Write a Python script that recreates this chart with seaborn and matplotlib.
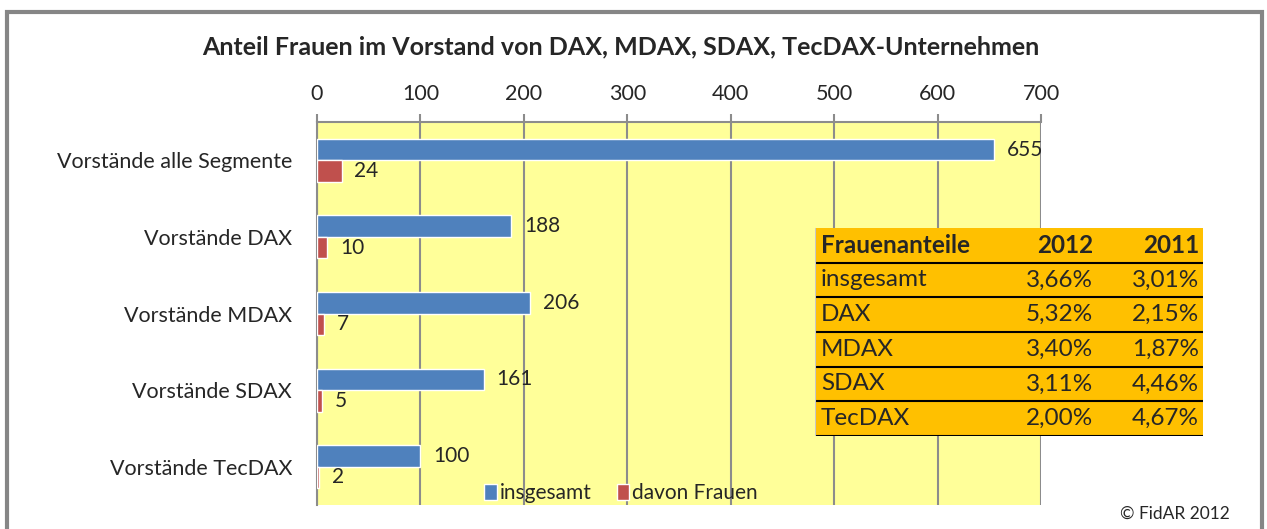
import pandas as pd
import numpy as np
import matplotlib.pyplot as plt
import seaborn as sns
from matplotlib.patches import Rectangle

# Daten
kategorien = ['Vorstände alle Segmente', 'Vorstände DAX', 'Vorstände MDAX',
              'Vorstände SDAX', 'Vorstände TecDAX']
insgesamt = [655, 188, 206, 161, 100]
davon_frauen = [24, 10, 7, 5, 2]
serien = ['insgesamt', 'davon Frauen']

tabelle_kopf = ['Frauenanteile', '2012', '2011']
tabelle_zeilen = ['insgesamt', 'DAX', 'MDAX', 'SDAX', 'TecDAX']
anteil_2012 = ['3,66%', '5,32%', '3,40%', '3,11%', '2,00%']
anteil_2011 = ['3,01%', '2,15%', '1,87%', '4,46%', '4,67%']

sns.set_style('white')
plt.rcParams['font.family'] = ['Lato', 'DejaVu Sans']

df = pd.DataFrame({
    'kategorie': kategorien * 2,
    'wert': insgesamt + davon_frauen,
    'serie': [serien[0]] * len(kategorien) + [serien[1]] * len(kategorien),
})

fig = plt.figure(figsize=(12.67, 5.29), dpi=100)
ax = fig.add_axes([317 / 1267, 1 - 505 / 529, 724 / 1267, 383 / 529])
ax.set_facecolor('#FFFF99')

sns.barplot(data=df, x='wert', y='kategorie', hue='serie', orient='h',
            palette=['#4F81BD', '#C0504D'], width=0.56, gap=0,
            saturation=1, ax=ax, zorder=3)

for cont in ax.containers:
    ax.bar_label(cont, padding=9, fontsize=15)

ax.set_xlim(0, 700)
ax.set_ylim(4.5, -0.5)
ax.xaxis.tick_top()
ax.set_xticks(np.arange(0, 701, 100))
ax.tick_params(axis='x', length=6, width=1.5, color='#8C8C8C',
               labelsize=15.5, pad=7)
ax.grid(axis='x', color='#8C8C8C', linewidth=1.5, zorder=0)
ax.set_axisbelow(True)

ax.set_yticks(range(len(kategorien)))
ax.set_yticklabels(kategorien)
ax.set_yticks(np.arange(-0.5, len(kategorien), 1), minor=True)
ax.tick_params(axis='y', which='major', length=0, labelsize=15.5, pad=18)
ax.tick_params(axis='y', which='minor', length=6, width=1.5, color='#8C8C8C')
ax.set_xlabel('')
ax.set_ylabel('')

for s in ['right', 'bottom']:
    ax.spines[s].set_visible(False)
for s in ['top', 'left']:
    ax.spines[s].set_color('#8C8C8C')
    ax.spines[s].set_linewidth(1.5)

ax.legend(loc='lower center', bbox_to_anchor=(0.42, -0.045), ncol=2,
          frameon=False, fontsize=15, handlelength=0.6, handleheight=0.8,
          handletextpad=0.15, columnspacing=1.2)

# Tabelle mit Frauenanteilen
tab = fig.add_axes([815 / 1267, 1 - 436 / 529, 388 / 1267, 208 / 529])
tab.set_xlim(0, 1)
tab.set_ylim(6, 0)
tab.axis('off')
tab.add_patch(Rectangle((0, 0), 1, 6, facecolor='#FFC000', edgecolor='none'))
for i in range(1, 7):
    tab.axhline(i, color='black', linewidth=1.5)
tab.axvline(0, color='#C8C8C8', linewidth=1.5)
tab.text(0.015, 0.5, tabelle_kopf[0], fontsize=17.5, fontweight='bold', va='center')
tab.text(0.716, 0.5, tabelle_kopf[1], fontsize=17.5, fontweight='bold', va='center', ha='right')
tab.text(0.99, 0.5, tabelle_kopf[2], fontsize=17.5, fontweight='bold', va='center', ha='right')
for i, (z, a, b) in enumerate(zip(tabelle_zeilen, anteil_2012, anteil_2011)):
    tab.text(0.015, i + 1.5, z, fontsize=17.5, va='center')
    tab.text(0.716, i + 1.5, a, fontsize=17.5, va='center', ha='right')
    tab.text(0.99, i + 1.5, b, fontsize=17.5, va='center', ha='right')

fig.text(0.49, 1 - 47 / 529, 'Anteil Frauen im Vorstand von DAX, MDAX, SDAX, TecDAX-Unternehmen',
         ha='center', va='center', fontsize=18, fontweight='bold')
fig.text(1230 / 1267, 1 - 514 / 529, '© FidAR 2012', ha='right', va='center', fontsize=12.5)

# Rahmen
fig.patches.append(Rectangle((7 / 1267, -0.05), 1255 / 1267, 1.05 - 12 / 529,
                             transform=fig.transFigure, fill=False,
                             edgecolor='#868686', linewidth=3))

fig.savefig('out.png', dpi=100)
